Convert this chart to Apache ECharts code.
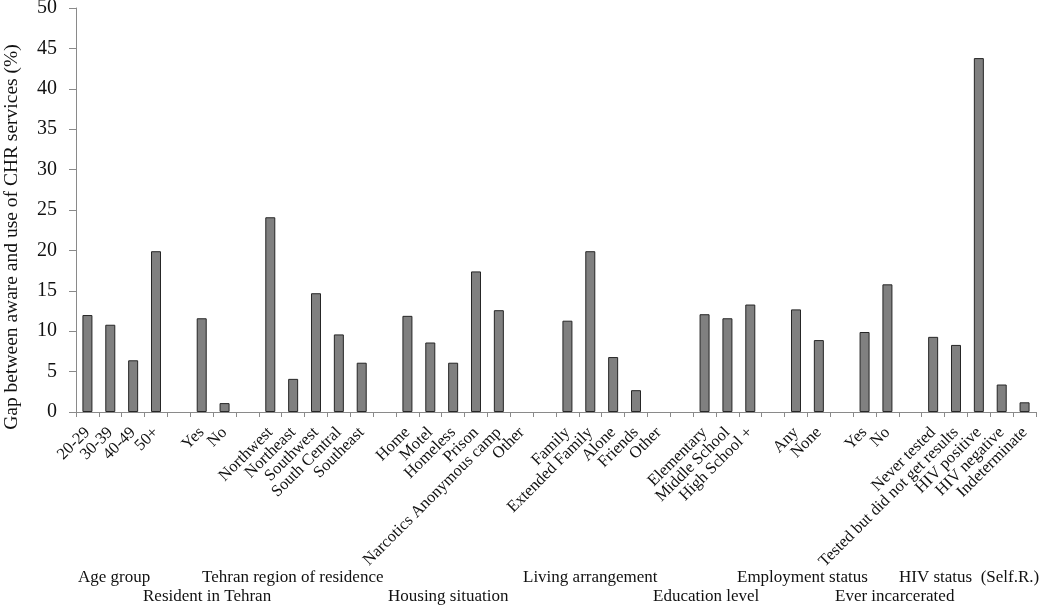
<!DOCTYPE html>
<html>
<head>
<meta charset="utf-8">
<script src="https://cdn.jsdelivr.net/npm/echarts@6/dist/echarts.min.js"></script>
<style>html,body{margin:0;padding:0;background:#fff}#c{width:1050px;height:607px}</style>
</head>
<body>
<div id="c"></div>
<script>
var categories = ['20-29','30-39','40-49','50+','',
  'Yes','No','',
  'Northwest','Northeast','Southwest','South Central','Southeast','',
  'Home','Motel','Homeless','Prison','Narcotics Anonymous camp','Other','',
  'Family','Extended Family','Alone','Friends','Other','',
  'Elementary','Middle School','High School +','',
  'Any','None','',
  'Yes','No','',
  'Never tested','Tested but did not get results','HIV positive','HIV negative','Indeterminate'];
var values = [12.0,10.8,6.4,19.9,null,
  11.6,1.1,null,
  24.1,4.1,14.7,9.6,6.1,null,
  11.9,8.6,6.1,17.4,12.6,0,null,
  11.3,19.9,6.8,2.7,0,null,
  12.1,11.6,13.3,null,
  12.7,8.9,null,
  9.9,15.8,null,
  9.3,8.3,43.8,3.4,1.2];
var yTicks = [0,5,10,15,20,25,30,35,40,45,50];
var yTitle = 'Gap between aware and use of CHR services (%)';
var groupRow1 = ['Age group','Tehran region of residence','Living arrangement','Employment status','HIV status  (Self.R.)'];
var groupRow2 = ['Resident in Tehran','Housing situation','Education level','Ever incarcerated'];

var font = 'Liberation Serif';
var row1X = [78, 202, 523, 737, 899];
var row2X = [143, 388, 653, 835];
var graphics = [];
groupRow1.forEach(function (t, i) {
  graphics.push({type:'text', left: row1X[i], top: 569, style:{text:t, font:'17px "' + font + '"', fill:'#111'}});
});
groupRow2.forEach(function (t, i) {
  graphics.push({type:'text', left: row2X[i], top: 588, style:{text:t, font:'17px "' + font + '"', fill:'#111'}});
});
graphics.push({type:'text', x: 12, y: 237, rotation: Math.PI / 2,
  style:{text: yTitle, font:'19.5px "' + font + '"', fill:'#111', align:'center', verticalAlign:'middle'}});

var barData = values.map(function (v) {
  return v === 0 ? {value: v, itemStyle: {borderWidth: 0}} : v;
});

var chart = echarts.init(document.getElementById('c'));
chart.setOption({
  animation: false,
  grid: {left: 76, right: 14, top: 8, bottom: 195, containLabel: false, outerBoundsMode: 'none'},
  xAxis: {
    type: 'category',
    data: categories,
    boundaryGap: true,
    axisLine: {lineStyle: {color: '#8a8a8a', width: 1}},
    axisTick: {show: true, alignWithLabel: false, length: 5, lineStyle: {color: '#8a8a8a'}, interval: 0},
    axisLabel: {interval: 0, rotate: 45, margin: 18, color: '#111', fontFamily: font, fontSize: 16.5}
  },
  yAxis: {
    type: 'value',
    min: yTicks[0],
    max: yTicks[yTicks.length - 1],
    interval: yTicks[1] - yTicks[0],
    splitLine: {show: false},
    axisLine: {show: true, lineStyle: {color: '#8a8a8a'}},
    axisTick: {show: true, length: 7, lineStyle: {color: '#8a8a8a'}},
    axisLabel: {margin: 19, color: '#111', fontFamily: font, fontSize: 20}
  },
  series: [{
    type: 'bar',
    data: barData,
    barWidth: 10,
    itemStyle: {color: '#808080', borderColor: '#262626', borderWidth: 1}
  }],
  graphic: graphics
});
</script>
</body>
</html>
